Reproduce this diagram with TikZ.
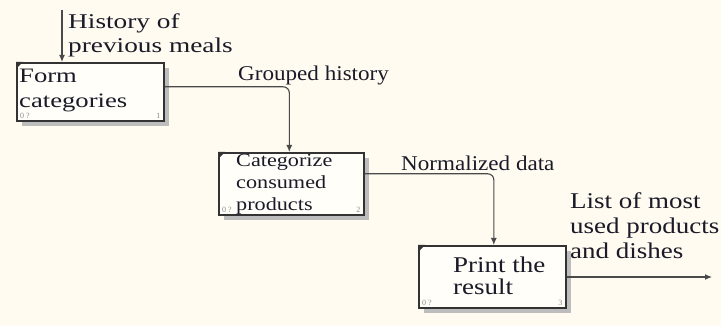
\documentclass[tikz,border=0pt]{standalone}
\usepackage{fontspec}
\setmainfont{Liberation Serif}
\newfontfamily\serifA{Liberation Serif}[FakeStretch=1.3]
\newfontfamily\serifB{Liberation Serif}[FakeStretch=1.1]
\newfontfamily\serifC{Liberation Serif}[FakeStretch=1.2]
\usetikzlibrary{arrows.meta,shadows}

\definecolor{paper}{HTML}{FFFBF0}
\definecolor{boxfill}{HTML}{FFFEF9}
\definecolor{boxline}{HTML}{333333}
\definecolor{shade}{HTML}{BDBDBD}
\definecolor{ink}{HTML}{1A1A28}
\definecolor{wire}{HTML}{4A4A4A}
\definecolor{tag}{HTML}{8A8A8A}

\tikzset{
  actbox/.style={draw=boxline, line width=1.6pt, fill=boxfill, anchor=north west,
    minimum width=147pt, minimum height=58pt, inner sep=0pt,
    drop shadow={shadow xshift=5pt, shadow yshift=-5pt, fill=shade, opacity=1}},
  lbl/.style={text=ink, inner sep=0pt, align=left},
  flow/.style={draw=wire, line width=1.1pt, rounded corners=6pt,
    -{Latex[length=7pt,width=6pt]}},
  tagtext/.style={text=tag, inner sep=0pt, font=\fontsize{8}{8}\selectfont}
}

% corner mark and small numbers of an activity box
\newcommand{\boxmarks}[2]{%
  \fill[boxline] (#1.north west) -- ++(7,0) -- ++(-7,7) -- cycle;
  \node[tagtext, anchor=south west] at ([xshift=4pt,yshift=3pt]#1.south west) {0 ?};
  \node[tagtext, anchor=south east] at ([xshift=-4pt,yshift=3pt]#1.south east) {#2};
}

\begin{document}
\begin{tikzpicture}[x=1pt,y=-1pt]
  \fill[paper] (0,0) rectangle (721,326);
  \useasboundingbox (0,0) rectangle (721,326);

  % activity boxes
  \node[actbox, minimum height=58pt] (f1) at (16,62) {};
  \node[actbox, minimum width=145pt, minimum height=62pt] (f2) at (218,152) {};
  \node[actbox, minimum width=147pt, minimum height=62pt] (f3) at (418,245) {};
  \boxmarks{f1}{1}
  \boxmarks{f2}{2}
  \boxmarks{f3}{3}

  % box titles
  \node[lbl, anchor=north west, font=\serifA\fontsize{20.5}{25}\selectfont] (t1) at (19,69) {Form\\categories};
  \node[lbl, anchor=north west, font=\serifC\fontsize{18.5}{22}\selectfont] (t2) at (236,154.5) {Categorize\\consumed\\products};
  \node[lbl, anchor=north west, font=\serifC\fontsize{22.5}{22}\selectfont] (t3) at (453,256.5) {Print the\\result};

  % connectors
  \coordinate (in1) at (62,10);
  \coordinate (out3) at (712,277);
  \draw[flow] (in1) -- (in1 |- f1.north);
  \draw[flow] ([yshift=5pt]f1.east) -| ([xshift=-2pt]f2.north);
  \draw[flow] ([yshift=10pt]f2.east) -| ([xshift=1.5pt]f3.north);
  \draw[flow] (f3.east |- out3) -- (out3);

  % connector labels
  \node[lbl, anchor=north west, font=\serifA\fontsize{21}{24}\selectfont] (lin) at (68,13.5) {History of\\previous meals};
  \node[lbl, anchor=base west, font=\serifB\fontsize{21}{24}\selectfont] (l12) at (238,81) {Grouped history};
  \node[lbl, anchor=base west, font=\serifB\fontsize{21}{24}\selectfont] (l23) at (401,171) {Normalized data};
  \node[lbl, anchor=north west, font=\serifC\fontsize{22.5}{25}\selectfont] (lout) at (570,192.5) {List of most\\used products\\and dishes};
\end{tikzpicture}
\end{document}
